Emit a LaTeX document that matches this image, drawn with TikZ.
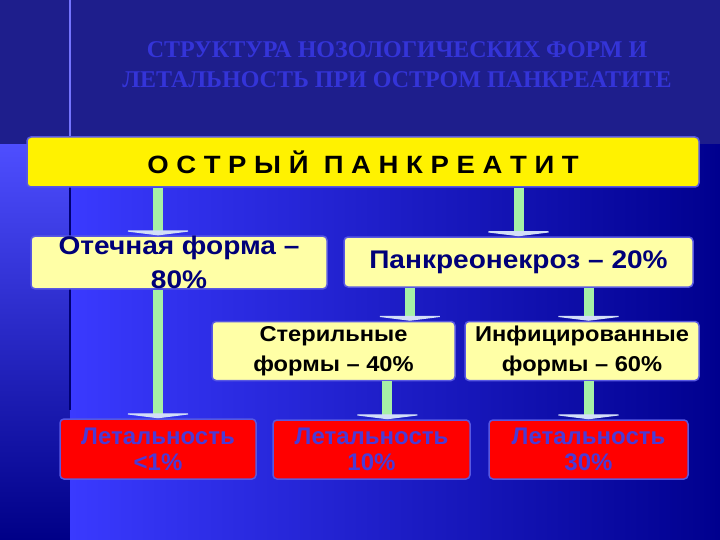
\documentclass[tikz,border=0pt]{standalone}
\usepackage{fontspec}
\setmainfont{Liberation Sans}
\newfontfamily\titlefont{Liberation Serif}
\newfontfamily\widefont[FakeStretch=1.1]{Liberation Sans}
\usetikzlibrary{calc}
\usetikzlibrary{arrows.meta}

\definecolor{topband}{HTML}{1E1E8C}
\definecolor{brightblue}{HTML}{3A3AFF}
\definecolor{deepblue}{HTML}{00008E}
\definecolor{titleblue}{HTML}{3434D8}
\definecolor{boxline}{HTML}{5858E2}
\definecolor{cream}{HTML}{FFFFA6}
\definecolor{navytext}{HTML}{000078}
\definecolor{lettext}{HTML}{4A3AD6}
\definecolor{shaft}{HTML}{A6F0A6}
\definecolor{tiphead}{HTML}{D2DEF8}

\tikzset{
    box/.style={draw=boxline, line width=1.5pt, rounded corners=4pt, align=center, inner sep=0pt},
    flow/.style={line width=10pt, draw=shaft, -{Triangle[width=80pt, length=5pt, fill=tiphead, color=tiphead]}}
}

\begin{document}
\begin{tikzpicture}[x=1pt, y=-1pt]
    \useasboundingbox (0,0) rectangle (720,540);
    %background
    \fill[topband] (0,0) rectangle (720,145);
    \shade[top color=brightblue!90!white, bottom color=deepblue!95!black] (0,145) rectangle (70,540);
    \shade[left color=brightblue, right color=deepblue] (70,145) rectangle (720,540);
    \draw[line width=1.2pt, brightblue!70!white] (70,0) -- (70,140);
    \draw[line width=1.2pt, deepblue!80!black] (70,187) -- (70,410);
    %title
    \node[font=\titlefont\bfseries\fontsize{24}{30}\selectfont, text=titleblue, align=center] at (397,65) (title) {СТРУКТУРА НОЗОЛОГИЧЕСКИХ ФОРМ И\\ЛЕТАЛЬНОСТЬ ПРИ ОСТРОМ ПАНКРЕАТИТЕ};
    %acute pancreatitis
    \node[box, fill=yellow, minimum width=672, minimum height=50, font=\widefont\bfseries\fontsize{25}{30}\selectfont] at (363,162) (acute) {О С Т Р Ы Й\ \ П А Н К Р Е А Т И Т};
    %edematous form
    \node[box, fill=cream, minimum width=296, minimum height=51, text=navytext, font=\widefont\bfseries\fontsize{25.5}{34}\selectfont] at (179,262.5) (otech) {Отечная форма –\\80\%};
    %pancreonecrosis
    \node[box, fill=cream, minimum width=349, minimum height=50, text=navytext, font=\widefont\bfseries\fontsize{25.5}{30}\selectfont] at (518.5,262) (pankr) {Панкреонекроз – 20\%};
    %sterile forms
    \node[box, fill=cream, minimum width=243, minimum height=59, font=\widefont\bfseries\fontsize{21.5}{30}\selectfont] at (333.5,351) (steril) {Стерильные\\формы – 40\%};
    %infected forms
    \node[box, fill=cream, minimum width=234, minimum height=59, font=\widefont\bfseries\fontsize{21.5}{30}\selectfont] at (582,351) (infic) {Инфицированные\\формы – 60\%};
    %lethality
    \node[box, fill=red, minimum width=196, minimum height=60, text=lettext, font=\bfseries\fontsize{24}{26}\selectfont] at (158,449) (let1) {Летальность\\<1\%};
    \node[box, fill=red, minimum width=197, minimum height=59, text=lettext, font=\bfseries\fontsize{24}{26}\selectfont] at (371.5,449.5) (let2) {Летальность\\10\%};
    \node[box, fill=red, minimum width=199, minimum height=59, text=lettext, font=\bfseries\fontsize{24}{26}\selectfont] at (588.5,449.5) (let3) {Летальность\\30\%};



    %acute zu otech
    \draw[flow] (acute.south -| let1) -- (otech.north -| let1);
    %acute zu pankr
    \draw[flow] (acute.south -| pankr) -- (pankr.north);
    %otech zu let1
    \draw[flow] (otech.south -| let1) -- (let1.north);
    %pankr zu steril
    \draw[flow] (pankr.south -| {$(pankr.south west)!0.19!(pankr.south east)$}) -- ({$(pankr.south west)!0.19!(pankr.south east)$} |- steril.north);
    %pankr zu infic
    \draw[flow] (pankr.south -| let3) -- (infic.north -| let3);
    %steril zu let2
    \draw[flow] (steril.south -| {$(let2.north west)!0.58!(let2.north east)$}) -- ($(let2.north west)!0.58!(let2.north east)$);
    %infic zu let3
    \draw[flow] (infic.south -| let3) -- (let3.north);
\end{tikzpicture}
\end{document}
